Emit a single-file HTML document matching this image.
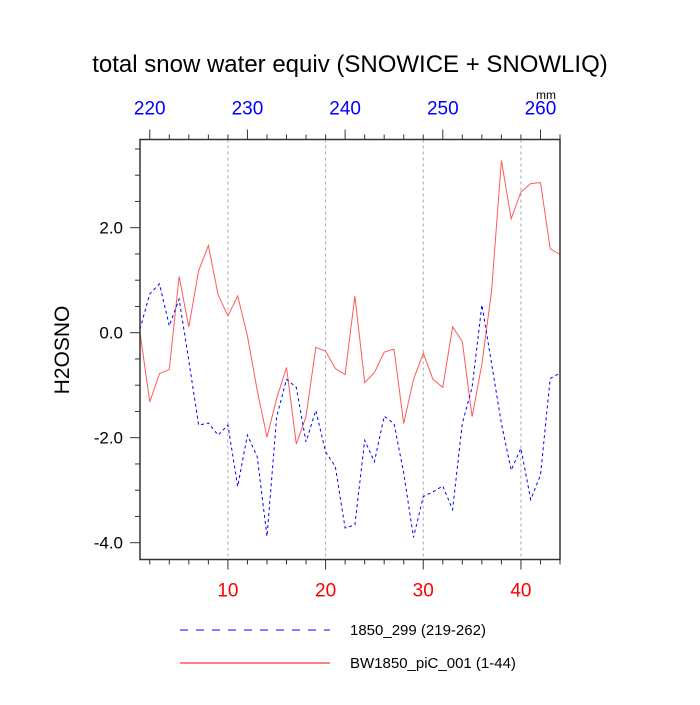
<!DOCTYPE html>
<html><head><meta charset="utf-8"><style>
body{margin:0;background:#fff;}
svg text{font-family:"Liberation Sans",Arial,sans-serif;}
</style></head><body>
<svg id="chart" width="700" height="700" xmlns="http://www.w3.org/2000/svg">
<rect width="700" height="700" fill="#fff"/>
<text x="350" y="72" font-size="24" text-anchor="middle">total snow water equiv (SNOWICE + SNOWLIQ)</text>
<text transform="translate(69,350) rotate(-90)" font-size="21" text-anchor="middle">H2OSNO</text>
<text x="546" y="99" font-size="12" text-anchor="middle">mm</text>
<g id="grid"></g><g id="series"></g><g id="axes"></g>
<g>
<line x1="180" y1="630" x2="330" y2="630" stroke="#0000ff" stroke-width="1" stroke-dasharray="8,8"/>
<text x="350" y="635" font-size="15">1850_299 (219-262)</text>
<line x1="180" y1="663" x2="330" y2="663" stroke="#ff0000" stroke-width="1"/>
<text x="350" y="668" font-size="15">BW1850_piC_001 (1-44)</text>
</g>
</svg>
<script>
const redValues=[0,-1.32,-0.78,-0.7,1.07,0.11,1.18,1.66,0.72,0.32,0.7,-0.06,-1.1,-1.99,-1.25,-0.66,-2.12,-1.6,-0.28,-0.35,-0.68,-0.8,0.7,-0.95,-0.76,-0.37,-0.31,-1.73,-0.89,-0.39,-0.89,-1.04,0.11,-0.17,-1.6,-0.6,0.8,3.28,2.17,2.68,2.84,2.86,1.6,1.49];
const blueValues=[0.07,0.74,0.93,0.13,0.64,-0.53,-1.76,-1.72,-1.95,-1.76,-2.93,-1.95,-2.36,-3.88,-1.6,-0.89,-1.04,-2.08,-1.48,-2.27,-2.55,-3.72,-3.66,-2.05,-2.46,-1.59,-1.73,-2.67,-3.9,-3.12,-3.03,-2.92,-3.37,-1.73,-1.04,0.53,-0.59,-1.73,-2.62,-2.2,-3.18,-2.71,-0.87,-0.77];
const bottomTicks=[10,20,30,40];
const topTicks=[220,230,240,250,260];
const yTicks=[2,0,-2,-4];
const topOffset=218;
const X0=140,X1=560,Y0=139.5,Y1=559.5,XMIN=1,XMAX=44,YMIN=-4.32,YMAX=3.68;
const NS='http://www.w3.org/2000/svg';
function sx(v){return X0+(v-XMIN)/(XMAX-XMIN)*(X1-X0);}
function sy(v){return Y1-(v-YMIN)/(YMAX-YMIN)*(Y1-Y0);}
function mk(t,a,p){const e=document.createElementNS(NS,t);for(const k in a)e.setAttribute(k,a[k]);p.appendChild(e);return e;}
const grid=document.getElementById('grid'),ser=document.getElementById('series'),ax=document.getElementById('axes');
bottomTicks.forEach(v=>{const l=mk('line',{x1:sx(v),x2:sx(v),y1:Y0,y2:Y1,stroke:'#aaa','stroke-width':1,'stroke-dasharray':'3,3'},grid);

});
function path(vals,color,dash,name){let d='';vals.forEach((v,i)=>{d+=(i?'L':'M')+sx(i+1).toFixed(1)+','+sy(v).toFixed(1);});
const p=mk('path',{d:d,fill:'none',stroke:color,'stroke-width':1},ser);if(dash)p.setAttribute('stroke-dasharray',dash);

}
path(redValues,'#ff5a5a',null,'series-bw1850-line');
path(blueValues,'#0000ff','3,3','series-1850-299-line');
const frame=mk('rect',{x:X0,y:Y0,width:X1-X0,height:Y1-Y0,fill:'none',stroke:'#333','stroke-width':1.5},ax);


for(let v=2;v<=44;v+=2){const maj=v%10==0;const l=mk('line',{x1:sx(v),x2:sx(v),y1:Y1,y2:Y1+(maj?10:5),stroke:'#333','stroke-width':1},ax);

}
bottomTicks.forEach(v=>{const t=mk('text',{x:sx(v),y:Y1+37,'font-size':19,'text-anchor':'middle',fill:'#ff0000'},ax);t.textContent=v;

});
for(let v=220;v<=262;v+=2){const x=sx(v-topOffset);if(x>X1+0.5)continue;const maj=v%10==0;const l=mk('line',{x1:x,x2:x,y1:Y0,y2:Y0-(maj?10:5),stroke:'#333','stroke-width':1},ax);

}
topTicks.forEach(v=>{const t=mk('text',{x:sx(v-topOffset),y:Y0-25,'font-size':19,'text-anchor':'middle',fill:'#0000ff'},ax);t.textContent=v;

});
for(let v=-4;v<=3.5;v+=0.5){const maj=Math.abs(v%2)<1e-9;const l=mk('line',{x1:X0,x2:X0-(maj?10:5),y1:sy(v),y2:sy(v),stroke:'#333','stroke-width':1},ax);

}
yTicks.forEach(v=>{const t=mk('text',{x:X0-17,y:sy(v)+6,'font-size':17,'text-anchor':'end'},ax);t.textContent=v.toFixed(1);

});
</script>
</body></html>
